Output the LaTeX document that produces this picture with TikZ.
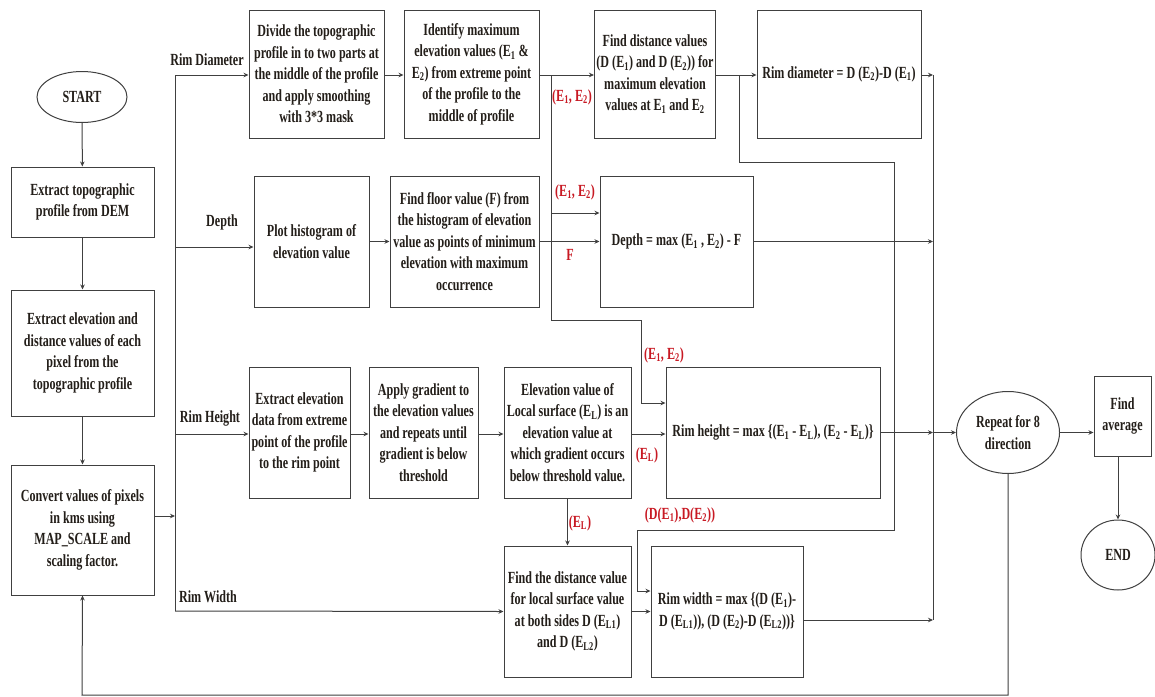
\documentclass[tikz,border=0pt]{standalone}
\usepackage{fontspec}
\setmainfont[FakeStretch=0.71]{Liberation Serif}
\usetikzlibrary{arrows.meta,shapes.geometric,calc}
\definecolor{ln}{RGB}{64,64,64}
\definecolor{tx}{RGB}{35,30,25}
\definecolor{rd}{RGB}{200,25,35}
\newcommand{\sbs}[1]{\textsubscript{#1}}
\begin{document}
\begin{tikzpicture}[x=1pt,y=-1pt,
 every node/.style={font=\fontsize{17}{21.5}\selectfont\bfseries, text=tx},
 box/.style={draw=ln, line width=1pt, align=center, inner sep=2pt},
 oval/.style={draw=ln, line width=1pt, ellipse, align=center, inner sep=0pt},
 conn/.style={draw=ln, line width=1pt},
 arr/.style={conn, -{Stealth[length=5pt,width=4.5pt]}},
 rlbl/.style={text=rd}]
\useasboundingbox[fill=white] (0,0) rectangle (1155,696);

% left column
\node[oval, minimum width=90pt, minimum height=51pt] (start) at (82,97) {START};
\node[box, minimum width=143pt, minimum height=70pt] (b1) at (82.5,202) {Extract topographic\\profile from DEM};
\node[box, minimum width=143pt, minimum height=126pt] (b2) at (82.5,353) {Extract elevation and\\distance values of each\\pixel from the\\topographic profile};
\node[box, minimum width=143pt, minimum height=130pt] (b3) at (82.5,530) {Convert values of pixels\\in kms using\\MAP\_SCALE and\\scaling factor.};

% row 1
\node[box, minimum width=135pt, minimum height=128pt] (divide) at (316.5,74) {Divide the topographic\\profile in to two parts at\\the middle of the profile\\and apply smoothing\\with 3*3 mask};
\node[box, minimum width=135pt, minimum height=128pt] (identify) at (471.5,74) {Identify maximum\\elevation values (E\sbs{1} \&\\E\sbs{2}) from extreme point\\of the profile to the\\middle of profile};
\node[box, minimum width=120pt, minimum height=128pt] (finddist) at (655,74) {Find distance values\\(D (E\sbs{1}) and D (E\sbs{2})) for\\maximum elevation\\values at E\sbs{1} and E\sbs{2}};
\node[box, minimum width=164pt, minimum height=128pt] (rimdia) at (839,74) {Rim diameter = D (E\sbs{2})-D (E\sbs{1})};

% row 2
\node[box, minimum width=115pt, minimum height=131pt] (plot) at (311.5,241.5) {Plot histogram of\\elevation value};
\node[box, minimum width=149pt, minimum height=131pt] (floor) at (464.5,241.5) {Find floor value (F) from\\the histogram of elevation\\value as points of minimum\\elevation with maximum\\occurrence};
\node[box, minimum width=153pt, minimum height=131pt] (depth) at (676.5,241.5) {Depth = max (E\sbs{1} , E\sbs{2}) - F};

% row 3
\node[box, minimum width=101pt, minimum height=131pt] (exel) at (299.5,432.5) {Extract elevation\\data from extreme\\point of the profile\\to the rim point};
\node[box, minimum width=109pt, minimum height=131pt] (grad) at (423.5,432.5) {Apply gradient to\\the elevation values\\and repeats until\\gradient is below\\threshold};
\node[box, minimum width=127pt, minimum height=131pt] (elev) at (567.5,432.5) {Elevation value of\\Local surface (E\sbs{L}) is an\\elevation value at\\which gradient occurs\\below threshold value.};
\node[box, minimum width=214pt, minimum height=131pt] (rimh) at (773,432.5) {Rim height = max \{(E\sbs{1} - E\sbs{L}), (E\sbs{2} - E\sbs{L})\}};

% row 4
\node[box, minimum width=127pt, minimum height=131pt] (fdist2) at (567.5,611.5) {Find the distance value\\for local surface value\\at both sides D (E\sbs{L1})\\and D (E\sbs{L2})};
\node[box, minimum width=152pt, minimum height=131pt] (rimw) at (727,611.5) {Rim width = max \{(D (E\sbs{1})-\\D (E\sbs{L1})), (D (E\sbs{2})-D (E\sbs{L2}))\}};

% right
\node[oval, minimum width=103pt, minimum height=82pt] (repeat) at (1008,432.5) {Repeat for 8\\direction};
\node[box, minimum width=57pt, minimum height=80pt] (avg) at (1122.5,416) {Find\\average};
\node[oval, minimum width=74pt, minimum height=70pt] (end) at (1118,555) {END};

% labels
\node (lrd) at (207,60) {Rim Diameter};
\node (ldp) at (222,222) {Depth};
\node (lrh) at (210,418) {Rim Height};
\node (lrw) at (208,597) {Rim Width};
\node[rlbl] (r1) at (572,97) {(E\sbs{1}, E\sbs{2})};
\node[rlbl] (r2) at (575,192) {(E\sbs{1}, E\sbs{2})};
\node[rlbl] (r3) at (570,255) {F};
\node[rlbl] (r4) at (664,355) {(E\sbs{1}, E\sbs{2})};
\node[rlbl] (r5) at (647,455) {(E\sbs{L})};
\node[rlbl] (r6) at (580,523) {(E\sbs{L})};
\node[rlbl] (r7) at (680,515) {(D(E\sbs{1}),D(E\sbs{2}))};

% coordinates
\coordinate (t0) at (175,75);
\coordinate (t1) at (175,247);
\coordinate (t2) at (175,434);
\coordinate (t3) at (175,611);
\coordinate (tin) at (175,516);
\coordinate (j1) at (551,75);
\coordinate (j1a) at (551,213);
\coordinate (j1b) at (551,320);
\coordinate (j1c) at (641,320);
\coordinate (j1d) at (641,403);
\coordinate (j2) at (739,75);
\coordinate (j2a) at (739,162);
\coordinate (j2b) at (894,162);
\coordinate (j2c) at (894,530);
\coordinate (j2d) at (637,530);
\coordinate (j2e) at (637,591);
\coordinate (c1) at (933,75);
\coordinate (c4) at (933,620);
\coordinate (lp1) at (1008,695);
\coordinate (lp2) at (82,695);

% left column flow
\draw[arr] (start) -- (b1);
\draw[arr] (b1) -- (b2);
\draw[arr] (b2) -- (b3);
\draw[arr] (b3.east |- tin) -- (tin);
\draw[conn] (t0) -- (t3);

% row 1
\draw[arr] (t0) -- (t0 -| divide.west);
\draw[arr] (divide.east |- t0) -- (identify.west |- t0);
\draw[arr] (identify.east |- t0) -- (finddist.west |- t0);
\draw[arr] (finddist.east |- t0) -- (rimdia.west |- t0);
\draw[arr] (rimdia.east |- c1) -- (c1);
\draw[conn] (c1) -- (c4);

% branch from identify
\draw[conn] (j1) -- (j1b) -- (j1c) -- (j1d);
\draw[arr] (j1a) -- (j1a -| depth.west);
\draw[arr] (j1d) -- (j1d -| rimh.west);

% branch from finddist
\draw[arr] (j2) -- (j2a) -- (j2b) -- (j2c) -- (j2d) -- (j2e) -- (j2e -| rimw.west);

% row 2
\draw[arr] (t1) -- (t1 -| plot.west);
\draw[arr] (plot.east) -- (floor.west);
\draw[arr] (floor.east) -- (depth.west);
\draw[arr] (depth.east) -- (depth.east -| c1);

% row 3
\draw[arr] (t2) -- (t2 -| exel.west);
\draw[arr] (exel.east |- t2) -- (grad.west |- t2);
\draw[arr] (grad.east |- t2) -- (elev.west |- t2);
\draw[arr] (elev.east |- t2) -- (rimh.west |- t2);
\draw[arr] (rimh.east) -- (rimh.east -| c1);
\draw[arr] (rimh.east -| c1) -- (repeat.west);
\draw[arr] (elev.south) -- (fdist2.north);

% row 4
\draw[arr] (t3) -- (fdist2.west);
\draw[arr] (fdist2.east) -- (rimw.west);
\draw[arr] (rimw.east |- c4) -- (c4);

% right
\draw[arr] (repeat.east) -- (repeat.east -| avg.west);
\draw[arr] (avg.south -| end.north) -- (end.north);
\draw[arr] (repeat.south) -- (lp1) -- (lp2) -- (b3.south);
\end{tikzpicture}
\end{document}
